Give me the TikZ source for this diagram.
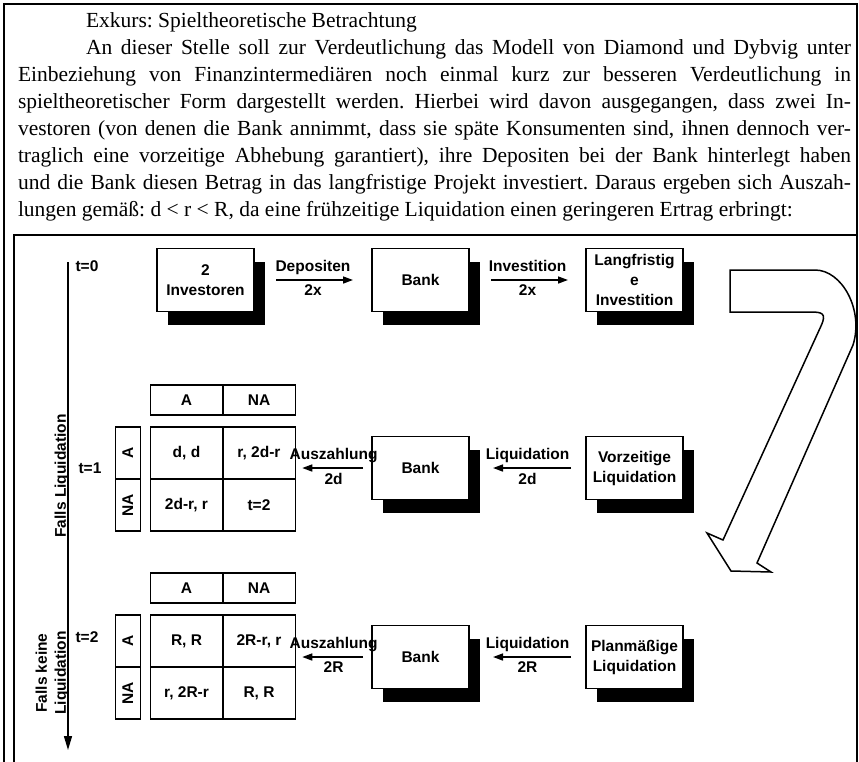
\documentclass[tikz,border=0pt]{standalone}
\usepackage{fontspec}
\setmainfont{Liberation Serif}
\setsansfont{Liberation Sans}
\usepackage{tikz}
\usetikzlibrary{arrows.meta,positioning,shadows}
\frenchspacing

\begin{document}
\begin{tikzpicture}[x=1pt,y=-1pt,
        every node/.style={inner sep=0pt,outer sep=0pt},
        fr/.style={line width=1.4pt},
        bx/.style={draw,line width=1.5pt,fill=white,
                  minimum width=97pt,minimum height=63pt,
                  align=center,font=\fontsize{15.5}{20}\sffamily\bfseries,
                  drop shadow={shadow xshift=11pt,shadow yshift=-13pt,
                               fill=black,opacity=1}},
        cl/.style={draw,line width=1.5pt,minimum width=72.5pt,minimum height=52pt,
                  font=\fontsize{15.5}{18}\sffamily\bfseries},
        hcl/.style={cl,minimum height=30pt},
        scl/.style={cl,minimum width=25pt},
        lb/.style={font=\fontsize{15.5}{19}\sffamily\bfseries},
        pf/.style={-{Triangle[length=10pt,width=7pt]},line width=1.5pt},
        zeit/.style={-{Triangle[length=14pt,width=8pt]},line width=1.5pt}
      ]
        \useasboundingbox (0,0) rectangle (859,761);
        \clip (0,0) rectangle (859,761);
        \draw[fr] (4,4) rectangle (857,790);
        \draw[fr] (14,235) rectangle (857,790);

        \node[anchor=north west,align=left,
              font=\fontsize{21.5}{26.9}\selectfont] (exkurs) at (18,13) {%
          \hspace*{68pt}Exkurs: Spieltheoretische Betrachtung\\
          \hspace*{68pt}\makebox[765pt][s]{An dieser Stelle soll zur Verdeutlichung das Modell von Diamond und Dybvig unter}\\
          \makebox[833pt][s]{Einbeziehung von Finanzintermediären noch einmal kurz zur besseren Verdeutlichung in}\\
          \makebox[833pt][s]{spieltheoretischer Form dargestellt werden. Hierbei wird davon ausgegangen, dass zwei In-}\\
          \makebox[833pt][s]{vestoren (von denen die Bank annimmt, dass sie späte Konsumenten sind, ihnen dennoch ver-}\\
          \makebox[833pt][s]{traglich eine vorzeitige Abhebung garantiert), ihre Depositen bei der Bank hinterlegt haben}\\
          \makebox[833pt][s]{und die Bank diesen Betrag in das langfristige Projekt investiert. Daraus ergeben sich Auszah-}\\
          lungen gemäß: d < r < R, da eine frühzeitige Liquidation einen geringeren Ertrag erbringt:};

        \node[bx] (inv) at (205.5,280) {2\\Investoren};
        \node[bx,right=118pt of inv] (bank0) {Bank};
        \node[bx,right=117pt of bank0] (lang) {Langfristig\\e\\Investition};
        \node[bx,below=125pt of bank0] (bank1) {Bank};
        \node[bx,right=117pt of bank1] (vorz) {Vorzeitige\\Liquidation};
        \node[bx,below=126pt of bank1] (bank2) {Bank};
        \node[bx,right=117pt of bank2] (plan) {Planmäßige\\Liquidation};

        \node[cl] (p11) at (186.5,453) {d, d};
        \node[cl,right=0pt of p11] (p12) {r, 2d-r};
        \node[cl,below=0pt of p11] (p21) {2d-r, r};
        \node[cl,right=0pt of p21] (p22) {t=2};
        \node[hcl,above=12pt of p11] (pa) {A};
        \node[hcl,right=0pt of pa] (pn) {NA};
        \node[scl,left=10pt of p11] (sa) {\rotatebox{90}{A}};
        \node[scl,below=0pt of sa] (sn) {\rotatebox{90}{NA}};

        \node[cl] (q11) at (186.5,641) {R, R};
        \node[cl,right=0pt of q11] (q12) {2R-r, r};
        \node[cl,below=0pt of q11] (q21) {r, 2R-r};
        \node[cl,right=0pt of q21] (q22) {R, R};
        \node[hcl,above=12pt of q11] (qa) {A};
        \node[hcl,right=0pt of qa] (qn) {NA};
        \node[scl,left=10pt of q11] (ta) {\rotatebox{90}{A}};
        \node[scl,below=0pt of ta] (tn) {\rotatebox{90}{NA}};

        \draw[pf,shorten <=22pt,shorten >=19pt] (inv) --
            node[lb,above=5pt]{Depositen} node[lb,below=5pt]{2x} (bank0);
        \draw[pf,shorten <=22pt,shorten >=18pt] (bank0) --
            node[lb,above=8pt]{Investition} node[lb,below=5pt]{2x} (lang);
        \draw[pf,shorten <=15pt,shorten >=24pt] (vorz) --
            node[lb,above=5pt]{Liquidation} node[lb,below=5pt]{2d} (bank1);
        \draw[pf,shorten <=9pt,shorten >=7pt] (bank1.west) --
            node[lb,above=5pt]{Auszahlung} node[lb,below=5pt]{2d} (p12.east |- bank1.west);
        \draw[pf,shorten <=15pt,shorten >=24pt] (plan) --
            node[lb,above=5pt]{Liquidation} node[lb,below=5pt]{2R} (bank2);
        \draw[pf,shorten <=9pt,shorten >=7pt] (bank2.west) --
            node[lb,above=5pt]{Auszahlung} node[lb,below=5pt]{2R} (q12.east |- bank2.west);

        \coordinate (t0) at (68,262);
        \coordinate (tE) at (68,750);
        \draw[zeit] (t0) -- (tE);
        \node[lb] (l0) at (87,266) {t=0};
        \node[lb] (l1) at (90,468) {t=1};
        \node[lb] (l2) at (87,637) {t=2};
        \node[lb,rotate=90,anchor=south] (fl) at (69,476) {Falls Liquidation};
        \node[lb,rotate=90,anchor=south,align=center] (fkl) at (69,673) {Falls keine\\Liquidation};

        \draw[line width=1.5pt,fill=white] (730,270) -- (815,270)
            .. controls (842,270) and (864,310) .. (853,345)
            -- (757,563) -- (771,572) -- (731,571) -- (707,533) -- (723,540)
            -- (821,326) .. controls (827,313) and (822,312) .. (810,312)
            -- (730,312) -- cycle;
      \end{tikzpicture}
\end{document}
